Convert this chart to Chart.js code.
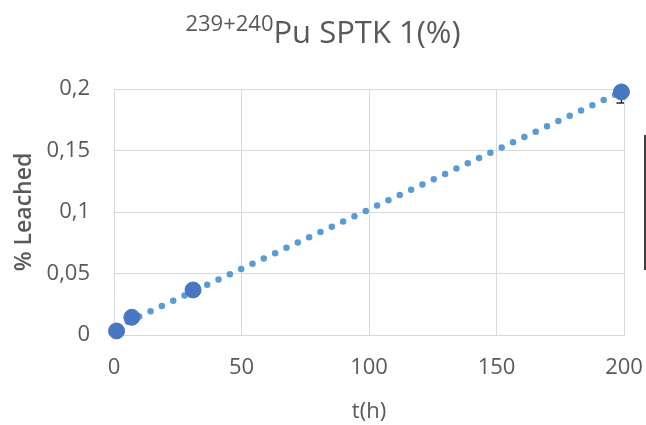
<!DOCTYPE html>
<html>
<head>
<meta charset="utf-8">
<script src="https://cdn.jsdelivr.net/npm/chart.js@4.4.1/dist/chart.umd.min.js"></script>
<style>
  html, body { margin: 0; padding: 0; background: #fff; }
  #wrap { width: 646px; height: 425px; position: relative; }
</style>
</head>
<body>
<div id="wrap"><canvas id="leach-chart"></canvas></div>
<script>
// leaching time (h) and leached fraction (%)
var hours = [1, 7, 31, 199];
var leached = [0.0033, 0.0144, 0.0366, 0.1976];
var leachedErr = [0.001, 0.001, 0.002, 0.009];

var xTicks = [0, 50, 100, 150, 200];
var yTicks = [0, 0.05, 0.1, 0.15, 0.2];

var FONT = "'Open Sans', sans-serif";
var GREY = "#595959";

var points = hours.map(function (h, i) { return { x: h, y: leached[i] }; });

// linear trend through the measurements
var n = hours.length, mx = 0, my = 0;
for (var i = 0; i < n; i++) { mx += hours[i] / n; my += leached[i] / n; }
var sxx = 0, sxy = 0;
for (var i = 0; i < n; i++) {
  sxx += (hours[i] - mx) * (hours[i] - mx);
  sxy += (hours[i] - mx) * (leached[i] - my);
}
var slope = sxy / sxx, icept = my - slope * mx;
var xFirst = Math.min.apply(null, hours), xLast = Math.max.apply(null, hours);
var trend = [
  { x: xFirst, y: icept + slope * xFirst },
  { x: xLast, y: icept + slope * xLast }
];

var errorBars = {
  id: "errorBars",
  beforeDatasetsDraw: function (chart) {
    var ctx = chart.ctx, xs = chart.scales.x, ys = chart.scales.y, a = chart.chartArea;
    ctx.save();
    ctx.beginPath();
    ctx.rect(a.left, a.top, a.right - a.left, a.bottom - a.top);
    ctx.clip();
    ctx.strokeStyle = "#262626";
    ctx.lineWidth = 1.5;
    hours.forEach(function (h, i) {
      var px = xs.getPixelForValue(h);
      var lo = ys.getPixelForValue(leached[i] - leachedErr[i]);
      var hi = ys.getPixelForValue(leached[i] + leachedErr[i]);
      ctx.beginPath();
      ctx.moveTo(px, lo); ctx.lineTo(px, hi);
      ctx.moveTo(px - 5, lo); ctx.lineTo(px + 5, lo);
      ctx.moveTo(px - 5, hi); ctx.lineTo(px + 5, hi);
      ctx.stroke();
    });
    ctx.restore();
  }
};

var titleAndFrame = {
  id: "titleAndFrame",
  afterDraw: function (chart) {
    var ctx = chart.ctx;
    var sup = "239+240", main = "Pu SPTK 1(%)";
    ctx.save();
    ctx.fillStyle = GREY;
    ctx.textBaseline = "alphabetic";
    ctx.font = "22px " + FONT;
    var wSup = ctx.measureText(sup).width;
    ctx.font = "31px " + FONT;
    var wMain = ctx.measureText(main).width;
    var x0 = 323 - (wSup + wMain) / 2;
    ctx.font = "22px " + FONT;
    ctx.fillText(sup, x0, 31);
    ctx.font = "31px " + FONT;
    ctx.fillText(main, x0 + wSup, 43);
    // edge of the box on the right
    ctx.strokeStyle = "#000";
    ctx.lineWidth = 1.5;
    ctx.beginPath();
    ctx.moveTo(645, 135);
    ctx.lineTo(645, 270);
    ctx.stroke();
    ctx.restore();
  }
};

new Chart(document.getElementById("leach-chart"), {
  type: "scatter",
  data: {
    datasets: [
      {
        label: "Pu",
        data: points,
        backgroundColor: "#4677c0",
        borderColor: "#4677c0",
        pointRadius: 8,
        pointHoverRadius: 8,
        clip: false
      },
      {
        label: "trend",
        data: trend,
        showLine: true,
        borderColor: "#5b9bd5",
        borderWidth: 6.5,
        borderDash: [0, 12.5],
        borderCapStyle: "round",
        pointRadius: 0,
        fill: false,
        clip: false
      }
    ]
  },
  options: {
    responsive: true,
    maintainAspectRatio: false,
    animation: false,
    events: [],
    layout: { padding: { top: 89, right: 22, left: 0, bottom: 0 } },
    plugins: {
      legend: { display: false },
      title: { display: false },
      tooltip: { enabled: false }
    },
    scales: {
      x: {
        type: "linear",
        min: 0,
        max: 200,
        afterBuildTicks: function (s) { s.ticks = xTicks.map(function (v) { return { value: v }; }); },
        afterFit: function (s) { s.height = 90; s.paddingLeft = 0; s.paddingRight = 0; },
        grid: { color: "#d9d9d9", lineWidth: 1, drawTicks: false },
        border: { color: "#d9d9d9" },
        ticks: { padding: 20, color: GREY, font: { family: FONT, size: 22 } },
        title: {
          display: true,
          text: "t(h)",
          color: GREY,
          font: { family: FONT, size: 22 },
          padding: { top: 0, bottom: 0 }
        }
      },
      y: {
        min: 0,
        max: 0.2,
        afterBuildTicks: function (s) { s.ticks = yTicks.map(function (v) { return { value: v }; }); },
        afterFit: function (s) { s.width = 114; s.paddingTop = 0; s.paddingBottom = 0; },
        grid: { color: "#d9d9d9", lineWidth: 1, drawTicks: false },
        border: { color: "#d9d9d9" },
        ticks: {
          padding: 24,
          color: GREY,
          font: { family: FONT, size: 22 },
          callback: function (v) { return String(Math.round(v * 100) / 100).replace(".", ","); }
        },
        title: {
          display: true,
          text: "% Leached",
          color: GREY,
          font: { family: FONT, size: 23, weight: "600" },
          padding: { top: 11, bottom: 0 }
        }
      }
    }
  },
  plugins: [errorBars, titleAndFrame]
});
</script>
</body>
</html>
